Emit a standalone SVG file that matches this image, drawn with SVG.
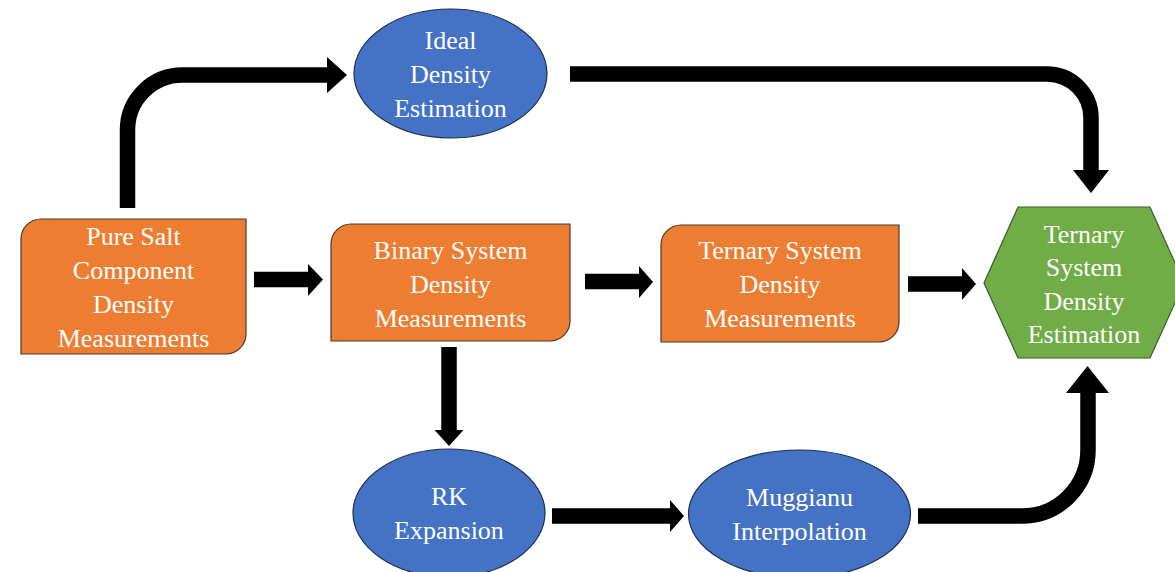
<svg xmlns="http://www.w3.org/2000/svg" width="1175" height="572" viewBox="0 0 1175 572">
<style>
.box{fill:#ED7D31;stroke:#4a3a30;stroke-width:1.2}
.ell{fill:#4472C4;stroke:#1f3050;stroke-width:1.2}
.hex{fill:#70AD47;stroke:#3a5a28;stroke-width:1.2}
.t{font-family:"Liberation Serif","Times New Roman",serif;font-size:26px;fill:#ffffff;text-anchor:middle}
.shaft{fill:none;stroke:#000;stroke-width:15.5}
.head{fill:#000;stroke:none}
</style>
<rect width="1175" height="572" fill="#ffffff"/>
<g id="connectors">
<path class="shaft" d="M127.5,208 V130 A55,55 0 0 1 182.5,75 H328"/>
<polygon class="head" points="327,57 347,75 327,93"/>
<path class="shaft" d="M570,74 H1047 A44,44 0 0 1 1091,118 V171"/>
<polygon class="head" points="1073,170 1109,170 1091,193"/>
<path class="shaft" d="M254,279.5 H309"/>
<polygon class="head" points="308,264 323,279.5 308,296"/>
<path class="shaft" d="M585,281.5 H640"/>
<polygon class="head" points="639,266 653,282 639,298"/>
<path class="shaft" d="M908,284 H963"/>
<polygon class="head" points="962,268 976,284 962,300"/>
<path class="shaft" d="M449,347 V431"/>
<polygon class="head" points="434.5,430 463.5,430 449,446"/>
<path class="shaft" d="M552,516 H671"/>
<polygon class="head" points="670,500 684,516 670,532"/>
<path class="shaft" d="M918,516 H1022 A66,66 0 0 0 1088,450 V392"/>
<polygon class="head" points="1066,393 1109,393 1087.5,366"/>
</g>
<g id="ideal">
<ellipse class="ell" cx="450.5" cy="73.5" rx="96.5" ry="64.5"/>
<text class="t" x="450.5" y="49">Ideal</text>
<text class="t" x="450.5" y="83">Density</text>
<text class="t" x="450.5" y="117">Estimation</text>
</g>
<g id="pure">
<path class="box" d="M41,219 H246 V334 A20,20 0 0 1 226,354 H21 V239 A20,20 0 0 1 41,219 Z"/>
<text class="t" x="133.5" y="245">Pure Salt</text>
<text class="t" x="133.5" y="279">Component</text>
<text class="t" x="133.5" y="313">Density</text>
<text class="t" x="133.5" y="347">Measurements</text>
</g>
<g id="binary">
<path class="box" d="M351,224 H570 V321 A20,20 0 0 1 550,341 H331 V244 A20,20 0 0 1 351,224 Z"/>
<text class="t" x="450.5" y="259">Binary System</text>
<text class="t" x="450.5" y="293">Density</text>
<text class="t" x="450.5" y="327">Measurements</text>
</g>
<g id="ternary">
<path class="box" d="M681,225 H899 V322 A20,20 0 0 1 879,342 H661 V245 A20,20 0 0 1 681,225 Z"/>
<text class="t" x="780" y="259">Ternary System</text>
<text class="t" x="780" y="293">Density</text>
<text class="t" x="780" y="327">Measurements</text>
</g>
<g id="estimate">
<polygon class="hex" points="984,283 1018,207 1150,207 1184,283 1150,358 1018,358"/>
<text class="t" x="1084" y="243">Ternary</text>
<text class="t" x="1084" y="276">System</text>
<text class="t" x="1084" y="310">Density</text>
<text class="t" x="1084" y="343">Estimation</text>
</g>
<g id="rk">
<ellipse class="ell" cx="449" cy="513" rx="96" ry="64"/>
<text class="t" x="449" y="505">RK</text>
<text class="t" x="449" y="539">Expansion</text>
</g>
<g id="muggianu">
<ellipse class="ell" cx="799.5" cy="514" rx="111" ry="64"/>
<text class="t" x="799.5" y="506">Muggianu</text>
<text class="t" x="799.5" y="540">Interpolation</text>
</g>
</svg>
